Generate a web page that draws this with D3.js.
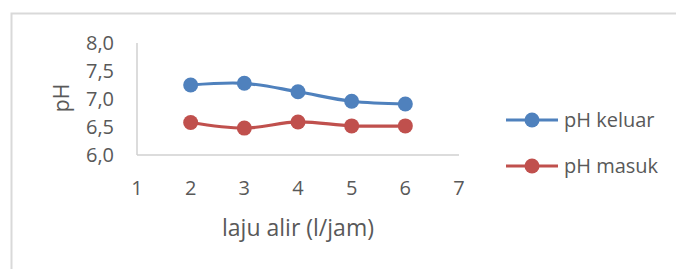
<!DOCTYPE html>
<html>
<head>
<meta charset="utf-8">
<script src="https://cdn.jsdelivr.net/npm/d3@7"></script>
<style>
  body { margin: 0; background: #fff; }
  text { font-family: "Open Sans", sans-serif; fill: #595959; }
</style>
</head>
<body>
<div id="chart"></div>
<script>
// data
var flowRates = [2, 3, 4, 5, 6];
var phKeluar = [7.25, 7.28, 7.13, 6.96, 6.91];
var phMasuk = [6.58, 6.48, 6.59, 6.52, 6.52];
var seriesNames = ["pH keluar", "pH masuk"];
var xTicks = [1, 2, 3, 4, 5, 6, 7];
var yTicks = [6.0, 6.5, 7.0, 7.5, 8.0];

var width = 676, height = 269;
var colors = ["#4F81BD", "#C0504D"];

var svg = d3.select("#chart").append("svg")
  .attr("width", width)
  .attr("height", height);

// chart frame
svg.append("rect")
  .attr("x", 11.5).attr("y", 13.5)
  .attr("width", 700).attr("height", 300)
  .attr("fill", "none")
  .attr("stroke", "#D9D9D9")
  .attr("stroke-width", 2);

var x = d3.scaleLinear().domain([1, 7]).range([137, 459]);
var y = d3.scaleLinear().domain([6, 8]).range([155, 43]);

// axes lines
svg.append("line")
  .attr("x1", x(1)).attr("x2", x(1))
  .attr("y1", y(8)).attr("y2", y(6))
  .attr("stroke", "#D0D0D0").attr("stroke-width", 1.5);
svg.append("line")
  .attr("x1", x(1)).attr("x2", x(7))
  .attr("y1", y(6)).attr("y2", y(6))
  .attr("stroke", "#D0D0D0").attr("stroke-width", 1.5);

var fmt = function(d) { return d3.format(".1f")(d).replace(".", ","); };

svg.selectAll(".ytick")
  .data(yTicks)
  .enter().append("text")
  .attr("x", 114)
  .attr("y", function(d) { return y(d); })
  .attr("dy", "0.35em")
  .attr("text-anchor", "end")
  .style("font-size", "20px")
  .text(fmt);

svg.selectAll(".xtick")
  .data(xTicks)
  .enter().append("text")
  .attr("x", function(d) { return x(d); })
  .attr("y", 188)
  .attr("dy", "0.35em")
  .attr("text-anchor", "middle")
  .style("font-size", "20px")
  .text(function(d) { return d; });

// axis titles
svg.append("text")
  .attr("transform", "translate(62,98) rotate(-90)")
  .attr("dy", "0.35em")
  .attr("text-anchor", "middle")
  .style("font-size", "21px")
  .text("pH");

svg.append("text")
  .attr("x", 298).attr("y", 228)
  .attr("dy", "0.35em")
  .attr("text-anchor", "middle")
  .style("font-size", "23px")
  .text("laju alir (l/jam)");

// series
var series = [phKeluar, phMasuk];
var line = d3.line()
  .x(function(d, i) { return x(flowRates[i]); })
  .y(function(d) { return y(d); })
  .curve(d3.curveCatmullRom);

series.forEach(function(vals, s) {
  svg.append("path")
    .datum(vals)
    .attr("d", line)
    .attr("fill", "none")
    .attr("stroke", colors[s])
    .attr("stroke-width", 3.2);
  svg.selectAll(".pt" + s)
    .data(vals)
    .enter().append("circle")
    .attr("cx", function(d, i) { return x(flowRates[i]); })
    .attr("cy", function(d) { return y(d); })
    .attr("r", 7.5)
    .attr("fill", colors[s]);
});

// legend
var legendY = [120, 166];
seriesNames.forEach(function(name, s) {
  var g = svg.append("g").attr("transform", "translate(0," + legendY[s] + ")");
  g.append("line")
    .attr("x1", 506).attr("x2", 558)
    .attr("stroke", colors[s]).attr("stroke-width", 3.2);
  g.append("circle")
    .attr("cx", 532).attr("r", 7.5)
    .attr("fill", colors[s]);
  g.append("text")
    .attr("x", 564)
    .attr("dy", "0.35em")
    .style("font-size", "20px")
    .text(name);
});
</script>
</body>
</html>
